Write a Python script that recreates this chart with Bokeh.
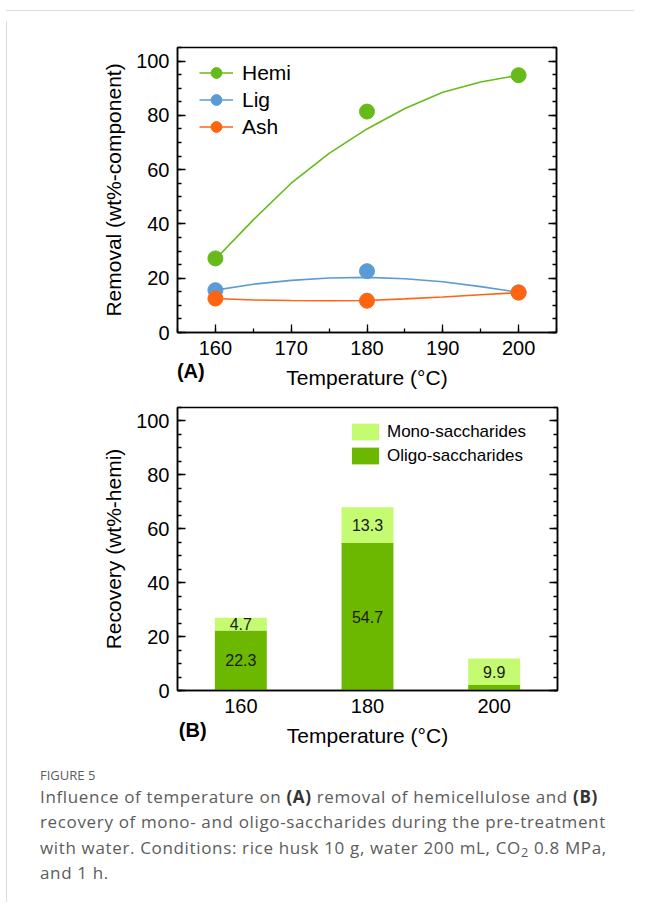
from bokeh.plotting import figure
from bokeh.models import (Range1d, LinearAxis, SingleIntervalTicker, FixedTicker, Legend, LegendItem,
                          ColumnDataSource, Div, Spacer, CustomJSTickFormatter)
from bokeh.layouts import column, row
from bokeh.embed import file_html
from bokeh.resources import INLINE
from bokeh.core.properties import value

# ---------------- data (A) ----------------
temps = [160, 180, 200]
hemi = [27.3, 81.4, 94.8]
lig = [15.6, 22.6, 14.8]
ash = [12.5, 11.7, 14.7]

fit_temps = [160, 165, 170, 175, 180, 185, 190, 195, 200]
hemi_fit = [27.0, 41.5, 55.0, 66.0, 75.0, 82.5, 88.5, 92.3, 94.8]
lig_fit = [15.6, 17.8, 19.2, 20.1, 20.3, 19.8, 18.7, 16.9, 14.8]
ash_fit = [12.5, 12.0, 11.8, 11.7, 11.8, 12.4, 13.1, 13.9, 14.7]

# ---------------- data (B) ----------------
categories = ["160", "180", "200"]
oligo = [22.3, 54.7, 2.0]
mono = [4.7, 13.3, 9.9]
oligo_labels = ["22.3", "54.7", ""]
mono_labels = ["4.7", "13.3", "9.9"]

HEMI_C = "#66bb1a"
LIG_C = "#5b9bd5"
ASH_C = "#ff6410"
MONO_C = "#c4fb70"
OLIGO_C = "#6cb800"
FONT = "Liberation Sans"


def style_axis(ax, labels=True, minor=True):
    ax.axis_line_color = "black"
    ax.axis_line_width = 1.5
    ax.major_tick_in = 8
    ax.major_tick_out = 0
    ax.minor_tick_in = 4 if minor else 0
    ax.minor_tick_out = 0
    ax.major_tick_line_color = "black"
    ax.major_tick_line_width = 1.3
    ax.minor_tick_line_color = "black"
    ax.minor_tick_line_width = 1.3
    ax.major_label_text_font = FONT
    ax.major_label_text_font_size = "20px"
    ax.major_label_text_color = "black"
    ax.major_label_standoff = 8
    ax.axis_label_text_font = FONT
    ax.axis_label_text_font_size = "21px"
    ax.axis_label_text_font_style = "normal"
    ax.axis_label_text_color = "black"
    ax.axis_label_standoff = 8
    if not labels:
        ax.formatter = CustomJSTickFormatter(code="return ''")
        ax.major_label_standoff = 0


def panel_tag(p, tick, text, standoff):
    ax = LinearAxis(ticker=FixedTicker(ticks=[tick]), major_label_overrides={tick: text})
    ax.axis_line_color = None
    ax.major_tick_line_color = None
    ax.minor_tick_line_color = None
    ax.major_label_text_font = FONT
    ax.major_label_text_font_size = "20px"
    ax.major_label_text_font_style = "bold"
    ax.major_label_text_color = "black"
    ax.major_label_standoff = standoff
    p.add_layout(ax, "below")


def base_style(p):
    p.grid.visible = False
    p.outline_line_color = "black"
    p.outline_line_width = 1.5
    p.outline_line_alpha = 1
    p.background_fill_color = "white"
    p.border_fill_color = "white"


# ---------------- figure A ----------------
pA = figure(frame_width=379, frame_height=285,
            x_range=Range1d(155, 205), y_range=Range1d(0, 105),
            min_border_left=165, min_border_top=31, min_border_bottom=20, min_border_right=20,
            x_axis_label="Temperature (°C)", y_axis_label="Removal (wt%-component)",
            output_backend="svg", toolbar_location=None)
base_style(pA)
pA.xaxis.ticker = SingleIntervalTicker(interval=10, num_minor_ticks=2)
pA.yaxis.ticker = SingleIntervalTicker(interval=20, num_minor_ticks=4)
for ax in pA.xaxis + pA.yaxis:
    style_axis(ax)
rA = LinearAxis(ticker=SingleIntervalTicker(interval=20, num_minor_ticks=4))
style_axis(rA, labels=False)
pA.add_layout(rA, "right")

items = []
for name, pts, fit, col in [("Hemi", hemi, hemi_fit, HEMI_C),
                            ("Lig", lig, lig_fit, LIG_C),
                            ("Ash", ash, ash_fit, ASH_C)]:
    ln = pA.line(fit_temps, fit, line_color=col, line_width=1.6)
    sc = pA.scatter(temps, pts, size=15, fill_color=col, line_color=col)
    items.append(LegendItem(label=name, renderers=[ln, sc]))

legA = Legend(items=items, location=(22, 192), glyph_width=34, glyph_height=27,
              label_height=20, spacing=0, padding=0, margin=0, label_standoff=9,
              label_text_font=FONT, label_text_font_size="21px", label_text_color="black",
              border_line_color=None, background_fill_alpha=0)
pA.add_layout(legA, "center")
panel_tag(pA, 156.75, "(A)", -38)

# ---------------- figure B ----------------
xpos = [i + 0.5 for i in range(len(categories))]
src = ColumnDataSource(dict(
    x=xpos, oligo=oligo, mono=mono,
    omid=[o / 2 for o in oligo], mmid=[o + m / 2 for o, m in zip(oligo, mono)],
    olab=oligo_labels, mlab=mono_labels))

pB = figure(frame_width=380, frame_height=283,
            x_range=Range1d(0, len(categories)), y_range=Range1d(0, 105),
            min_border_left=165, min_border_top=16, min_border_bottom=20, min_border_right=20,
            x_axis_label="Temperature (°C)", y_axis_label="Recovery (wt%-hemi)",
            output_backend="svg", toolbar_location=None)
base_style(pB)
pB.yaxis.ticker = SingleIntervalTicker(interval=20, num_minor_ticks=4)
pB.xaxis.ticker = FixedTicker(ticks=xpos)
pB.xaxis.major_label_overrides = {x: c for x, c in zip(xpos, categories)}
for ax in pB.yaxis:
    style_axis(ax)
for ax in pB.xaxis:
    style_axis(ax)
    ax.major_tick_in = 0
    ax.minor_tick_in = 0
rB = LinearAxis(ticker=SingleIntervalTicker(interval=20, num_minor_ticks=4))
style_axis(rB, labels=False)
pB.add_layout(rB, "right")

rs = pB.vbar_stack(["oligo", "mono"], x="x", width=0.41, source=src,
                   fill_color=[OLIGO_C, MONO_C], line_color=None)
pB.text(x="x", y="omid", text="olab", source=src, text_align="center",
        text_baseline="middle", text_font=value(FONT), text_font_size="16px",
        text_color="#1a1a1a")
pB.text(x="x", y="mmid", text="mlab", source=src, text_align="center",
        text_baseline="middle", text_font=value(FONT), text_font_size="16px",
        text_color="#1a1a1a")

legB = Legend(items=[LegendItem(label="Mono-saccharides", renderers=[rs[1]]),
                     LegendItem(label="Oligo-saccharides", renderers=[rs[0]])],
              location=(171, 224), glyph_width=34, glyph_height=21, label_height=21,
              spacing=3, padding=0, margin=0, label_standoff=5,
              label_text_font=FONT, label_text_font_size="17px", label_text_color="black",
              border_line_color=None, background_fill_alpha=0)
pB.add_layout(legB, "center")
panel_tag(pB, 0.12, "(B)", -37)

# ---------------- caption ----------------
caption_html = (
    '<div style="font-family:\'Open Sans\',sans-serif;color:#5c5c5c;padding-left:23px;padding-top:13px;">'
    '<div style="font-size:13px;line-height:17px;">FIGURE 5</div>'
    '<div style="font-size:17px;line-height:25.3px;letter-spacing:0.65px;white-space:nowrap;">'
    'Influence of temperature on <b style="color:#333">(A)</b> removal of hemicellulose and '
    '<b style="color:#333">(B)</b><br>'
    'recovery of mono- and oligo-saccharides during the pre-treatment<br>'
    'with water. Conditions: rice husk 10 g, water 200 mL, CO'
    '<span style="font-size:0.75em;vertical-align:-0.25em;line-height:0;">2</span> 0.8 MPa,<br>'
    'and 1 h.</div></div>')
caption = Div(text=caption_html, width=620, height=130)

top_line = Div(text="", width=628, height=1, styles={"background-color": "#dcdcdc"})
vline = Div(text="", width=1, height=881, styles={"background-color": "#dcdcdc"})

layout = column(Spacer(height=5),
                row(Spacer(width=1), top_line),
                row(Spacer(width=1), vline, column(pA, pB, caption)))

open("out.html", "w").write(file_html(layout, INLINE))
